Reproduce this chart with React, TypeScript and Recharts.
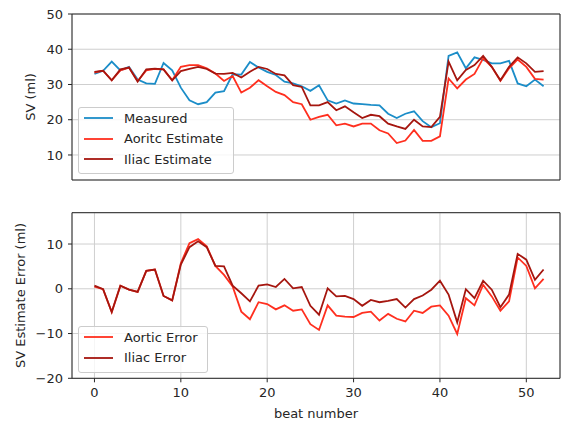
import React from 'react';
import { LineChart, Line, XAxis, YAxis, CartesianGrid, ReferenceArea, Legend } from 'recharts';

const beats = [
  0, 1, 2, 3, 4, 5, 6, 7, 8, 9, 10, 11, 12, 13, 14, 15, 16, 17, 18, 19, 20, 21, 22, 23, 24, 25, 26,
  27, 28, 29, 30, 31, 32, 33, 34, 35, 36, 37, 38, 39, 40, 41, 42, 43, 44, 45, 46, 47, 48, 49, 50, 51, 52,
];

// stroke volume, ml
const measured = [
  33.0, 33.9, 36.5, 34.0, 35.0, 31.4, 30.3, 30.2, 36.1, 34.0,
  29.1, 25.5, 24.4, 25.0, 27.7, 28.1, 32.9, 32.8, 36.4, 34.8,
  33.6, 32.7, 30.8, 30.3, 29.5, 28.2, 29.8, 25.5, 24.6, 25.5,
  24.6, 24.4, 24.2, 24.1, 21.7, 20.5, 21.7, 22.4, 19.6, 17.9,
  19.0, 38.1, 39.1, 34.6, 37.7, 37.0, 36.0, 36.0, 36.7, 30.3,
  29.5, 31.4, 29.5,
];
const aorticEstimate = [
  33.4, 33.9, 31.2, 34.0, 34.8, 31.0, 34.0, 34.4, 34.3, 31.2,
  35.0, 35.5, 35.5, 34.6, 33.1, 31.0, 32.4, 27.7, 29.1, 31.2,
  29.5, 27.9, 27.0, 25.0, 24.4, 20.0, 20.8, 21.4, 18.4, 18.9,
  18.1, 18.9, 18.9, 17.0, 16.1, 13.4, 14.1, 17.1, 14.0, 14.0,
  15.3, 31.7, 28.9, 31.4, 33.0, 37.4, 35.0, 31.0, 34.6, 37.1,
  35.0, 31.6, 31.4,
];
const iliacEstimate = [
  33.6, 33.9, 31.2, 34.3, 34.8, 30.8, 34.3, 34.5, 34.3, 31.2,
  33.8, 34.4, 35.0, 34.4, 33.1, 33.0, 33.3, 32.0, 33.6, 35.0,
  34.4, 33.0, 32.6, 29.8, 29.3, 24.1, 24.1, 25.0, 22.7, 23.8,
  22.1, 20.5, 21.4, 21.0, 18.9, 18.1, 17.4, 20.0, 18.1, 17.9,
  20.8, 36.5, 31.2, 34.1, 35.5, 38.1, 35.0, 31.2, 35.0, 37.7,
  36.0, 33.6, 33.8,
];

// estimate minus measured, ml
const aorticError = [
  0.5, -0.1, -5.2, 0.7, -0.2, -0.7, 4.0, 4.3, -1.6, -2.6,
  5.7, 10.2, 11.1, 9.5, 5.1, 3.1, 0.5, -5.1, -6.8, -3.0,
  -3.4, -4.6, -3.7, -4.9, -4.6, -7.9, -9.2, -3.7, -6.0, -6.2,
  -6.3, -5.4, -5.1, -7.1, -5.6, -6.7, -7.3, -4.9, -5.4, -4.0,
  -3.7, -6.0, -10.1, -2.1, -3.7, 0.9, -1.7, -4.9, -2.8, 7.0,
  5.1, 0.1, 2.2,
];
const iliacError = [
  0.7, -0.1, -5.2, 0.7, -0.2, -0.7, 4.0, 4.3, -1.6, -2.6,
  5.4, 9.3, 10.6, 9.3, 5.1, 5.0, 0.7, -1.0, -2.8, 0.7,
  1.0, 0.4, 2.2, 0.1, 0.4, -3.8, -5.8, 0.1, -1.7, -1.6,
  -2.3, -3.8, -2.5, -3.0, -2.7, -2.3, -4.2, -2.3, -1.5, -0.2,
  1.8, -1.3, -7.5, -0.1, -2.1, 1.8, -0.2, -4.1, -1.3, 7.8,
  6.5, 2.0, 4.3,
];

const xTicks = [0, 10, 20, 30, 40, 50];
const svTicks = [10, 20, 30, 40, 50];
const errTicks = [-20, -10, 0, 10];

const X_DOMAIN: [number, number] = [-2.6, 53.9];
const SV_DOMAIN: [number, number] = [2.9, 50];
const ERR_DOMAIN: [number, number] = [-20, 17];

const FONT = '"DejaVu Sans", sans-serif';
const INK = '#262626';
const BLUE = '#1b8dc8';
const RED = '#ff2f1f';
const DARK_RED = '#a5160f';
const GRID = '#cfcfcf';

const svData = beats.map((beat, i) => ({
  beat,
  measured: measured[i],
  aortic: aorticEstimate[i],
  iliac: iliacEstimate[i],
}));

const errData = beats.map((beat, i) => ({
  beat,
  aortic: aorticError[i],
  iliac: iliacError[i],
}));

const tickStyle = { fill: INK, fontSize: 13, fontFamily: FONT };
const labelStyle = { textAnchor: 'middle' as const, fill: INK, fontSize: 13, fontFamily: FONT };
const withMinus = (v: number) => String(v).replace('-', '\u2212');

type LegendItem = { label: string; color: string };

const LegendBox = ({ items, width }: { items: LegendItem[]; width: number }) => (
  <div
    style={{
      width,
      boxSizing: 'border-box',
      background: 'rgba(255,255,255,0.8)',
      border: '1px solid #cccccc',
      borderRadius: 3,
      padding: '0 0 3.5px 5px',
      fontFamily: FONT,
      fontSize: 13,
      color: INK,
    }}
  >
    {items.map((it) => (
      <div key={it.label} style={{ display: 'flex', alignItems: 'center', height: 20.5 }}>
        <svg width={29} height={4} style={{ marginRight: 11, flex: 'none' }}>
          <line x1={0} y1={2} x2={29} y2={2} stroke={it.color} strokeWidth={1.8} />
        </svg>
        <span style={{ whiteSpace: 'nowrap' }}>{it.label}</span>
      </div>
    ))}
  </div>
);

const svLegend: LegendItem[] = [
  { label: 'Measured', color: BLUE },
  { label: 'Aoritc Estimate', color: RED },
  { label: 'Iliac Estimate', color: DARK_RED },
];

const errLegend: LegendItem[] = [
  { label: 'Aortic Error', color: RED },
  { label: 'Iliac Error', color: DARK_RED },
];

const lineProps = { type: 'linear' as const, dot: false, strokeWidth: 1.8, isAnimationActive: false };

export default function App() {
  return (
    <div
      style={{
        position: 'absolute',
        left: 0,
        top: 0,
        width: 563,
        height: 423,
        overflow: 'hidden',
        background: '#fff',
      }}
    >
      <LineChart width={563} height={200} data={svData} margin={{ top: 14, right: 3, bottom: 0, left: 12 }}>
        <CartesianGrid stroke={GRID} strokeWidth={1} />
        <XAxis
          dataKey="beat"
          type="number"
          domain={X_DOMAIN}
          ticks={xTicks}
          allowDataOverflow
          interval={0}
          height={20}
          axisLine={false}
          tick={false}
          tickSize={4}
          tickLine={{ stroke: INK }}
        />
        <YAxis
          type="number"
          domain={SV_DOMAIN}
          ticks={svTicks}
          allowDataOverflow
          interval={0}
          width={60}
          axisLine={false}
          tickSize={4}
          tickMargin={5}
          tickLine={{ stroke: INK }}
          tick={tickStyle}
          label={{ value: 'SV (ml)', angle: -90, position: 'insideLeft', offset: 18, style: labelStyle }}
        />
        <Line dataKey="measured" stroke={BLUE} {...lineProps} />
        <Line dataKey="aortic" stroke={RED} {...lineProps} />
        <Line dataKey="iliac" stroke={DARK_RED} {...lineProps} />
        <ReferenceArea
          x1={X_DOMAIN[0]}
          x2={X_DOMAIN[1]}
          y1={SV_DOMAIN[0]}
          y2={SV_DOMAIN[1]}
          fill="none"
          stroke={INK}
          strokeWidth={1}
        />
        <Legend
          layout="vertical"
          align="center"
          verticalAlign="middle"
          wrapperStyle={{ left: 78, top: 107, width: 156, height: 'auto' }}
          content={() => <LegendBox items={svLegend} width={156} />}
        />
      </LineChart>
      <LineChart width={563} height={223} data={errData} margin={{ top: 12.7, right: 3, bottom: 0, left: 12 }}>
        <CartesianGrid stroke={GRID} strokeWidth={1} />
        <XAxis
          dataKey="beat"
          type="number"
          domain={X_DOMAIN}
          ticks={xTicks}
          allowDataOverflow
          interval={0}
          height={44.7}
          axisLine={false}
          tickSize={4}
          tickMargin={5}
          tickLine={{ stroke: INK }}
          tick={tickStyle}
          label={{ value: 'beat number', position: 'insideBottom', offset: 5, style: labelStyle }}
        />
        <YAxis
          type="number"
          domain={ERR_DOMAIN}
          ticks={errTicks}
          allowDataOverflow
          interval={0}
          width={60}
          axisLine={false}
          tickSize={4}
          tickMargin={5}
          tickLine={{ stroke: INK }}
          tick={tickStyle}
          tickFormatter={withMinus}
          label={{ value: 'SV Estimate Error (ml)', angle: -90, position: 'insideLeft', offset: 8, style: labelStyle }}
        />
        <Line dataKey="aortic" stroke={RED} {...lineProps} />
        <Line dataKey="iliac" stroke={DARK_RED} {...lineProps} />
        <ReferenceArea
          x1={X_DOMAIN[0]}
          x2={X_DOMAIN[1]}
          y1={ERR_DOMAIN[0]}
          y2={ERR_DOMAIN[1]}
          fill="none"
          stroke={INK}
          strokeWidth={1}
        />
        <Legend
          layout="vertical"
          align="center"
          verticalAlign="middle"
          wrapperStyle={{ left: 78, top: 126, width: 130, height: 'auto' }}
          content={() => <LegendBox items={errLegend} width={130} />}
        />
      </LineChart>
    </div>
  );
}
